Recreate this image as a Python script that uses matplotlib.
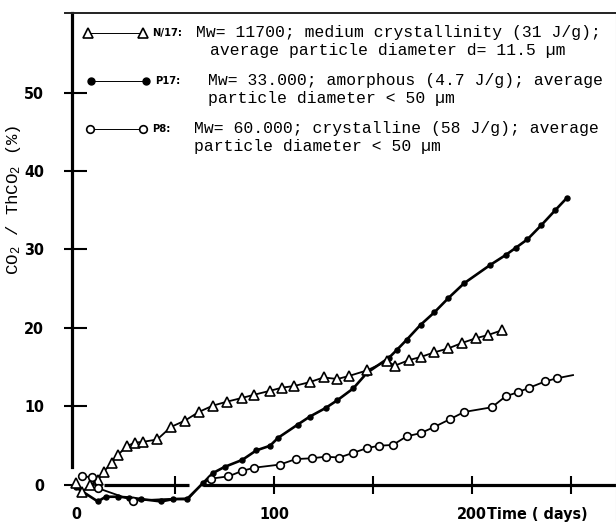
import matplotlib
matplotlib.use("Agg")
import matplotlib.pyplot as plt
from matplotlib import font_manager
from matplotlib.font_manager import FontProperties
from matplotlib.ticker import FixedLocator, NullFormatter

# CO2 evolution curves (% of theoretical CO2) against time in days
n17_days = [0, 3, 7, 11, 14, 18, 21, 26, 30, 34, 41, 48, 55, 62, 69, 76, 84, 90,
            98, 104, 110, 118, 125, 132, 138, 147, 157, 161, 168, 174, 181, 188,
            195, 202, 208, 215]
n17_co2 = [0.3, -0.9, 0.0, 0.6, 1.7, 2.8, 3.8, 5.0, 5.4, 5.5, 5.8, 7.4, 8.2, 9.3,
           10.1, 10.6, 11.1, 11.5, 12.0, 12.4, 12.6, 13.1, 13.7, 13.5, 13.9, 14.6,
           15.8, 15.2, 15.9, 16.3, 16.9, 17.4, 18.1, 18.7, 19.1, 19.7]

p17_days = [0, 11, 15, 21, 27, 33, 43, 49, 56, 64, 69, 75, 84, 91, 98, 102, 112, 118,
            126, 132, 140, 147, 158, 162, 167, 174, 181, 188, 196, 209, 217, 222,
            228, 235, 242, 248]
p17_co2 = [-0.3, -2.1, -1.5, -1.5, -1.6, -1.8, -2.1, -1.8, -1.8, 0.2, 1.5, 2.3, 3.2,
           4.4, 5.0, 6.0, 7.7, 8.7, 9.8, 10.8, 12.3, 14.3, 16.2, 17.2, 18.5, 20.4,
           22.0, 23.8, 25.7, 28.0, 29.3, 30.2, 31.3, 33.1, 35.0, 36.6]

p8_days = [3, 8, 11, 29, 45, 57, 63, 68, 77, 84, 90, 103, 111, 119, 126, 133, 140,
           147, 153, 160, 167, 174, 181, 189, 196, 210, 217, 223, 229, 237, 243, 251]
p8_co2 = [1.1, 1.0, -0.4, -2.0, -1.8, -1.7, 0.0, 0.8, 1.1, 1.8, 2.2, 2.6, 3.3, 3.4,
          3.6, 3.5, 4.1, 4.7, 5.0, 5.1, 6.2, 6.6, 7.4, 8.4, 9.3, 9.9, 11.3, 11.8,
          12.4, 13.2, 13.6, 14.0]
# points along the baseline and the final line end carry no circle
p8_unmarked = [4, 5, 6, 31]

x_labels = ["0", "100", "200"]
x_label_pos = [0, 100, 200]
x_cross_ticks = [50, 100, 150, 200, 250]
y_ticks = [0, 10, 20, 30, 40, 50]

codes = ["N/17:", "P17:", "P8:"]
descriptions = [
    ["Mw= 11700; medium crystallinity (31 J/g);",
     "average particle diameter d= 11.5 \u00b5m"],
    ["Mw= 33.000; amorphous (4.7 J/g); average",
     "particle diameter < 50 \u00b5m"],
    ["Mw= 60.000; crystalline (58 J/g); average",
     "particle diameter < 50 \u00b5m"],
]


def narrow_bold_font():
    """Pick a condensed bold face if one is installed."""
    best = None
    for f in font_manager.fontManager.ttflist:
        squeezed = ("condensed" in str(f.stretch).lower() or "Narrow" in f.name
                    or "Condensed" in f.name or "ondensed" in f.fname)
        if not squeezed or "semi" in str(f.stretch).lower():
            continue
        bold = str(f.weight) in ("bold", "700", "heavy", "800") or "Bold" in f.fname
        if bold and "Oblique" not in f.fname and "Italic" not in f.fname:
            return f.fname
        if best is None and "Oblique" not in f.fname and "Italic" not in f.fname:
            best = f.fname
    return best


narrow_file = narrow_bold_font()


def narrow(size):
    if narrow_file:
        return FontProperties(fname=narrow_file, size=size)
    return FontProperties(family="Liberation Sans", weight="bold", size=size)


MONO = "Liberation Mono"
plt.rcParams["mathtext.fontset"] = "custom"
plt.rcParams["mathtext.rm"] = MONO
plt.rcParams["mathtext.it"] = MONO

W, H = 616, 524
fig = plt.figure(figsize=(W / 100, H / 100), dpi=100)


def fx(px):
    return px / W


def fy(py):
    return 1 - py / H


ax = fig.add_axes([fx(65), fy(520.3), (616 - 65) / W, (520.3 - 13) / H])
ax.set_xlim(-5.56, 272.7)
ax.set_ylim(-4.5, 60.13)

# curves
ax.plot(n17_days, n17_co2, color="black", lw=1.3, marker="^", ms=7,
        mfc="white", mec="black", mew=1.2, zorder=4)
ax.plot(p17_days, p17_co2, color="black", lw=1.9, marker="o", ms=3.6,
        mfc="black", mec="black", zorder=3)
marked = [i for i in range(len(p8_days)) if i not in p8_unmarked]
ax.plot(p8_days, p8_co2, color="black", lw=1.3, marker="o", ms=5.5,
        mfc="white", mec="black", mew=1.2, markevery=marked, zorder=4)

# axis frame: heavy left axis, thin top, faint right edge
ax.spines["bottom"].set_visible(False)
ax.spines["bottom"].set_position(("data", 0))
ax.spines["left"].set_position(("data", -2.0))
ax.spines["left"].set_bounds(2.3, 60.13)
ax.spines["left"].set_linewidth(2.3)
ax.spines["top"].set_linewidth(1.4)
ax.spines["top"].set_color("#222222")
ax.spines["right"].set_linewidth(0.8)
ax.spines["right"].set_color("#c4c4c4")

# time axis drawn as a heavy baseline, broken where P17 climbs through it
ax.hlines([0, 0], [14, 64], [57, 272.7], color="black", lw=2.3, zorder=2)

ax.xaxis.set_major_locator(FixedLocator(x_label_pos))
ax.set_xticklabels(x_labels)
ax.xaxis.set_minor_locator(FixedLocator(x_cross_ticks))
ax.xaxis.set_minor_formatter(NullFormatter())
ax.xaxis.remove_overlapping_locs = False
ax.tick_params(axis="x", which="major", length=0, pad=16)
ax.tick_params(axis="x", which="minor", direction="inout", length=13.5, width=1.5)

ax.yaxis.set_major_locator(FixedLocator(y_ticks))
ax.set_yticklabels([str(v) for v in y_ticks])
ax.yaxis.set_minor_locator(FixedLocator(y_ticks))
ax.yaxis.set_minor_formatter(NullFormatter())
ax.yaxis.remove_overlapping_locs = False
ax.tick_params(axis="y", which="major", direction="in", length=11, width=1.5, pad=20)
ax.tick_params(axis="y", which="minor", direction="out", length=5.8, width=1.5)
ax.yaxis.get_major_ticks()[0].tick1line.set_visible(False)

for lab in ax.get_xticklabels() + ax.get_yticklabels():
    lab.set_fontproperties(narrow(11.5))

fig.text(fx(487), fy(519), "Time ( days)", fontproperties=narrow(11.5),
         ha="left", va="baseline")
fig.text(fx(14), fy(200), r"CO$_2$ / ThCO$_2$ (%)", family=MONO, fontsize=12.5,
         rotation=90, ha="center", va="center")

# key: sample line with two markers, sample code, two-line description
key_styles = [
    dict(marker="^", ms=7.5, mfc="white", mew=1.2),
    dict(marker="o", ms=5, mfc="black", mew=1.0),
    dict(marker="o", ms=5.5, mfc="white", mew=1.2),
]
key_rows = [33, 81, 129]
key_handle = [(88, 143), (91, 146), (90, 143)]
key_code_x = [152, 155, 152]
key_text_x = [(196, 210), (208, 208), (194, 194)]
for code, desc, style, row, (h0, h1), cx, (t0, t1) in zip(
        codes, descriptions, key_styles, key_rows, key_handle, key_code_x, key_text_x):
    fig.add_artist(plt.Line2D([fx(h0), fx(h1)], [fy(row), fy(row)], color="black",
                              lw=0.7, mec="black", **style))
    fig.text(fx(cx), fy(row), code, fontproperties=narrow(8),
             ha="left", va="center")
    fig.text(fx(t0), fy(row), desc[0], family=MONO, fontsize=11.8,
             ha="left", va="center")
    fig.text(fx(t1), fy(row + 17), desc[1], family=MONO, fontsize=11.8,
             ha="left", va="center")

fig.savefig("out.png", dpi=100)
